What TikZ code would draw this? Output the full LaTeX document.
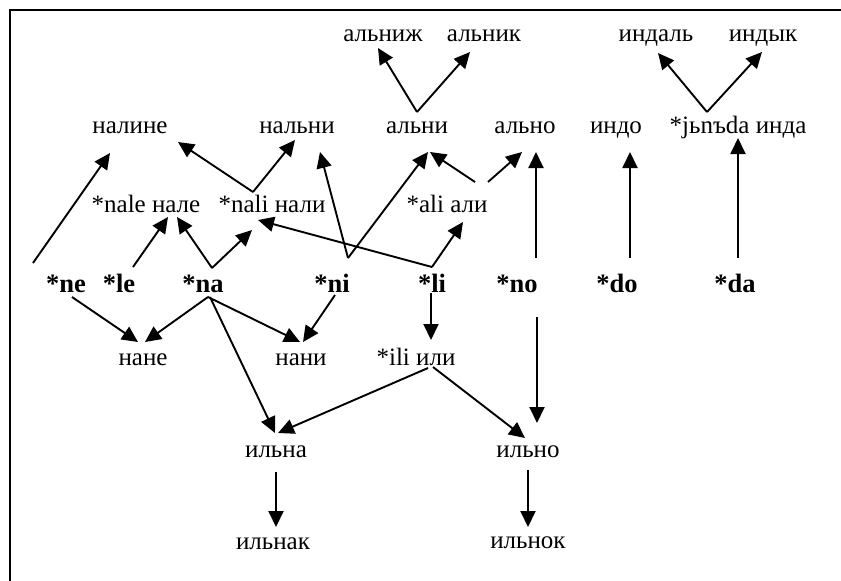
\documentclass[tikz,border=0pt]{standalone}
\usepackage{fontspec}
\setmainfont{Liberation Serif}
\usetikzlibrary{arrows.meta}
\begin{document}
\begin{tikzpicture}[x=1pt,y=1pt,
  word/.style={inner sep=0pt, anchor=base, font=\fontsize{25}{29}\selectfont},
  root/.style={inner sep=0pt, anchor=base, font=\fontsize{26.5}{31}\selectfont\bfseries},
  link/.style={line width=1.9pt, -{Triangle[length=16pt,width=15pt]}},
  frameline/.style={line width=2pt}]
\useasboundingbox (0,0) rectangle (841,-581);
% open frame: left and top edges only
\draw[frameline] (10,-581) -- (10,-10) -- (841,-10);

% top row
\node[word] (alnizh) at (383,-41) {альниж};
\node[word] (alnik)  at (484,-41) {альник};
\node[word] (indal)  at (656,-41) {индаль};
\node[word] (indyk)  at (763,-41) {индык};

% second row
\node[word] (naline) at (130,-133) {налине};
\node[word] (nalni)  at (297,-133) {нальни};
\node[word] (alni)   at (417,-133) {альни};
\node[word] (alno)   at (525,-133) {ально};
\node[word] (indo)   at (616,-133) {индо};
\node[word] (jnda)   at (738,-133) {*jьnъda инда};

% third row
\node[word] (nale) at (146,-212) {*nale нале};
\node[word] (nali) at (272,-212) {*nali нали};
\node[word] (ali)  at (447,-212) {*ali али};

% roots
\node[root] (ne) at (66,-292)  {*ne};
\node[root] (le) at (119,-292) {*le};
\node[root] (na) at (203,-292) {*na};
\node[root] (ni) at (332,-292) {*ni};
\node[root] (li) at (432,-292) {*li};
\node[root] (no) at (517,-292) {*no};
\node[root] (do) at (617,-292) {*do};
\node[root] (da) at (735,-292) {*da};

% lower rows
\node[word] (nane)  at (143,-365) {нане};
\node[word] (nani)  at (301,-365) {нани};
\node[word] (ili)   at (416,-365) {*ili или};
\node[word] (ilna)  at (276,-457) {ильна};
\node[word] (ilno)  at (528,-457) {ильно};
\node[word] (ilnak) at (273,-549) {ильнак};
\node[word] (ilnok) at (528,-548) {ильнок};

% upward derivations
\draw[link] ([xshift=-33pt,yshift=29pt]ne.base) -- ([xshift=-20pt,yshift=-20pt]naline.base);
\draw[link] ([xshift=14pt,yshift=25pt]le.base) -- ([xshift=22pt,yshift=-5pt]nale.base);
\draw[link] ([xshift=9pt,yshift=24pt]na.base) -- ([xshift=31pt,yshift=-5pt]nale.base);
\draw[link] ([xshift=9pt,yshift=24pt]na.base) -- ([xshift=-20pt,yshift=-18pt]nali.base);
\draw[link] ([xshift=-19pt,yshift=20pt]nali.base) -- ([xshift=48pt,yshift=-9pt]naline.base);
\draw[link] ([xshift=-19pt,yshift=20pt]nali.base) -- ([xshift=-2pt,yshift=-7pt]nalni.base);
\draw[link] ([xshift=16pt,yshift=34pt]ni.base) -- ([xshift=23pt,yshift=-19pt]nalni.base);
\draw[link] ([xshift=16pt,yshift=34pt]ni.base) -- ([xshift=11pt,yshift=-19pt]alni.base);
\draw[link] ([yshift=25pt]li.base) -- ([xshift=-14pt,yshift=-8pt]nali.base);
\draw[link] ([yshift=25pt]li.base) -- ([xshift=16pt,yshift=-10pt]ali.base);
\draw[link] ([xshift=28pt,yshift=30pt]ali.base) -- ([xshift=13pt,yshift=-19pt]alni.base);
\draw[link] ([xshift=41pt,yshift=30pt]ali.base) -- ([xshift=-3pt,yshift=-19pt]alno.base);
\draw[link] ([xshift=19pt,yshift=34pt]no.base) -- ([xshift=11pt,yshift=-19pt]alno.base);
\draw[link] ([xshift=13pt,yshift=34pt]do.base) -- ([xshift=14pt,yshift=-19pt]indo.base);
\draw[link] ([xshift=3pt,yshift=34pt]da.base) -- ([yshift=-5pt]jnda.base);
\draw[link] ([yshift=21pt]alni.base) -- ([xshift=-5pt,yshift=-7pt]alnizh.base);
\draw[link] ([yshift=21pt]alni.base) -- ([xshift=-14pt,yshift=-11pt]alnik.base);
\draw[link] ([xshift=-31pt,yshift=21pt]jnda.base) -- ([xshift=2pt,yshift=-12pt]indal.base);
\draw[link] ([xshift=-31pt,yshift=21pt]jnda.base) -- ([xshift=-1pt,yshift=-11pt]indyk.base);

% downward derivations
\draw[link] ([xshift=6pt,yshift=-5pt]ne.base) -- ([xshift=-5pt,yshift=23pt]nane.base);
\draw[link] ([xshift=5pt,yshift=-5pt]na.base) -- ([xshift=2pt,yshift=23pt]nane.base);
\draw[link] ([xshift=5pt,yshift=-5pt]na.base) -- ([xshift=-1pt,yshift=23pt]nani.base);
\draw[link] ([xshift=3pt,yshift=-3pt]ni.base) -- ([xshift=2pt,yshift=23pt]nani.base);
\draw[link] ([xshift=7pt,yshift=-5pt]na.base) -- ([xshift=-1pt,yshift=24pt]ilna.base);
\draw[link] ([xshift=12pt,yshift=-3pt]ili.base) -- ([xshift=2pt,yshift=24pt]ilna.base);
\draw[link] ([xshift=17pt,yshift=-2pt]ili.base) -- ([xshift=-3pt,yshift=19pt]ilno.base);
\draw[link] ([xshift=-1pt,yshift=-1pt]li.base) -- ([xshift=15pt,yshift=25pt]ili.base);
\draw[link] ([xshift=20pt,yshift=-25pt]no.base) -- ([xshift=9pt,yshift=34pt]ilno.base);
\draw[link] ([yshift=-15pt]ilna.base) -- ([xshift=3pt,yshift=22pt]ilnak.base);
\draw[link] ([yshift=-13pt]ilno.base) -- ([yshift=21pt]ilnok.base);
\end{tikzpicture}
\end{document}
